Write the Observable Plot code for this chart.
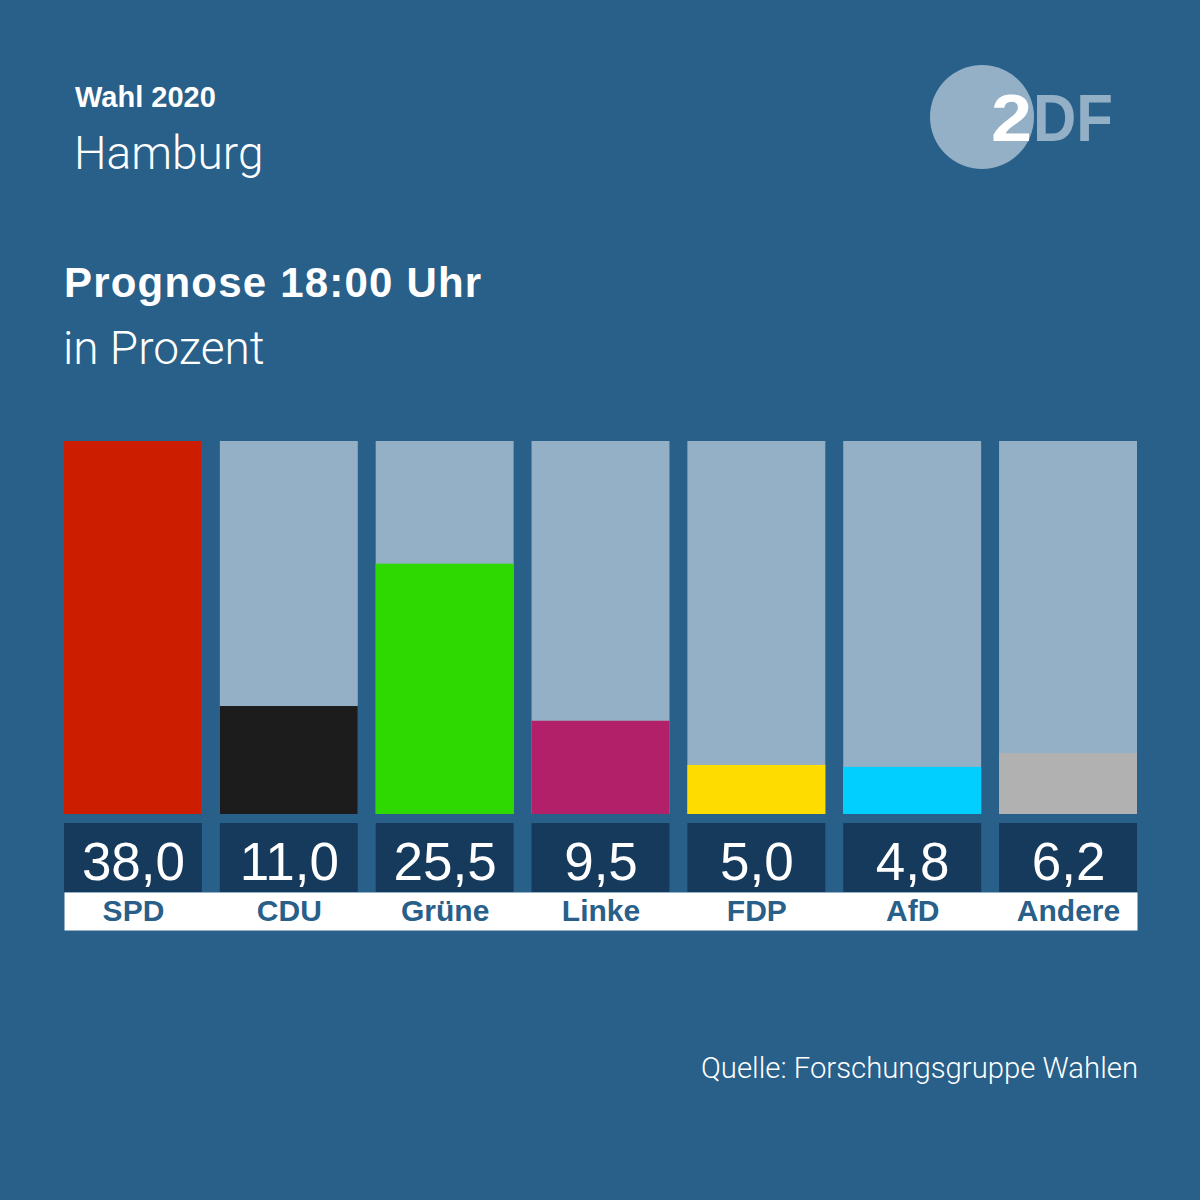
<!DOCTYPE html>
<html>
<head>
<meta charset="utf-8">
<script src="https://cdn.jsdelivr.net/npm/d3@7"></script>
<script src="https://cdn.jsdelivr.net/npm/@observablehq/plot@0.6"></script>
<style>
  html, body { margin: 0; padding: 0; background: #286089; }
  #root { position: relative; width: 1200px; height: 1200px; background: #286089; overflow: hidden;
          font-family: "Liberation Sans", Arial, sans-serif; }
  .layer { position: absolute; left: 0; }
  svg text { font-family: "Liberation Sans", Arial, sans-serif; }
  svg text.light { font-family: Roboto, "Liberation Sans", sans-serif; font-weight: 300; }
</style>
</head>
<body>
<div id="root">
  <svg class="layer" style="top:0" width="1200" height="1200" id="overlay">
    <text x="75" y="107" fill="#fff" font-size="29" font-weight="700">Wahl 2020</text>
    <text class="light" x="74" y="169" fill="#fff" font-size="46">Hamburg</text>
    <text x="64" y="297" fill="#fff" font-size="42" font-weight="700" letter-spacing="1.2">Prognose 18:00 Uhr</text>
    <text class="light" x="63" y="364" fill="#fff" font-size="46">in Prozent</text>
    <text class="light" x="1138" y="1078" fill="#fff" font-size="29.3" text-anchor="end">Quelle: Forschungsgruppe Wahlen</text>
    <circle cx="982" cy="117" r="52" fill="#93b0c6"></circle>
    <text x="991" y="141" fill="#fff" font-size="67" font-weight="700" textLength="41" lengthAdjust="spacingAndGlyphs">2</text>
    <text x="1033" y="141" fill="#93b0c6" font-size="67" font-weight="700" textLength="80" lengthAdjust="spacingAndGlyphs">DF</text>
  </svg>
  <div class="layer" id="bars" style="top:431px"></div>
  <div class="layer" id="values" style="top:823px"></div>
  <div class="layer" id="labels" style="top:892px"></div>
</div>
<script>
const parties = ["SPD", "CDU", "Grüne", "Linke", "FDP", "AfD", "Andere"];
const values = [38.0, 11.0, 25.5, 9.5, 5.0, 4.8, 6.2];
const colors = ["#cc1d00", "#1c1c1c", "#2dd900", "#b3206a", "#ffdc00", "#00cfff", "#b1b1b1"];

const rows = parties.map((p, i) => ({party: p, value: values[i], color: colors[i]}));
const fmt = v => d3.format(".1f")(v).replace(".", ",");
const yMax = d3.max(values);

const xScale = () => ({type: "band", domain: parties, paddingInner: 0.115, paddingOuter: 0, round: false, axis: null});
const common = {width: 1200, marginLeft: 64, marginRight: 63, style: {background: "transparent", overflow: "visible"}};

const bars = Plot.plot({
  ...common,
  height: 383, marginTop: 10, marginBottom: 0,
  x: xScale(),
  y: {domain: [0, yMax], axis: null},
  marks: [
    Plot.barY(rows, {x: "party", y: () => yMax, fill: "#93b0c6"}),
    Plot.barY(rows, {x: "party", y: "value", fill: d => d.color})
  ]
});
document.getElementById("bars").append(bars);

const valueRow = Plot.plot({
  ...common,
  height: 69, marginTop: 0, marginBottom: 0,
  x: xScale(),
  marks: [
    Plot.cell(rows, {x: "party", fill: "#163a5c"}),
    Plot.text(rows, {x: "party", text: d => fmt(d.value), fill: "#fff", fontSize: 53, fontWeight: 300,
      fontFamily: "Roboto, Liberation Sans, sans-serif", lineAnchor: "middle", dy: 5})
  ]
});
document.getElementById("values").append(valueRow);

const labelRow = Plot.plot({
  ...common,
  height: 38, marginTop: 0, marginBottom: 0,
  x: xScale(),
  marks: [
    Plot.frame({fill: "#fff", stroke: null}),
    Plot.text(rows, {x: "party", text: "party", fill: "#286089", fontSize: 30, fontWeight: 700,
      fontFamily: "Liberation Sans, Arial, sans-serif", lineAnchor: "middle", dy: 0})
  ]
});
document.getElementById("labels").append(labelRow);
</script>
</body>
</html>
